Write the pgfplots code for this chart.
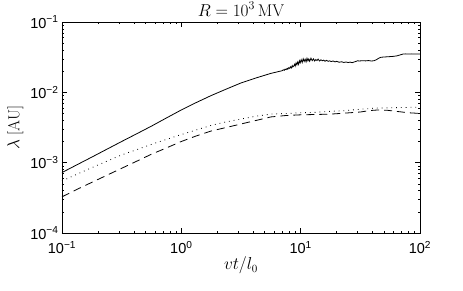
\documentclass[border=0pt]{standalone}
\usepackage{fontspec}
\usepackage{pgfplots}
\pgfplotsset{compat=1.18}
\newfontfamily\lsans{Liberation Sans}
\begin{document}
\begin{tikzpicture}
\path[use as bounding box] (-62pt,-58pt) rectangle (401pt,233pt);
\begin{axis}[
  at={(0pt,0pt)}, anchor=south west,
  scale only axis, width=358pt, height=211pt,
  xmode=log, ymode=log,
  xmin=0.1, xmax=100, ymin=1e-4, ymax=1e-1,
  xtick={0.1,1,10,100},
  xticklabels={10\textsuperscript{−1},10\textsuperscript{0},10\textsuperscript{1},10\textsuperscript{2}},
  ytick={1e-4,1e-3,1e-2,1e-1},
  yticklabels={10\textsuperscript{−4},10\textsuperscript{−3},10\textsuperscript{−2},10\textsuperscript{−1}},
  ticklabel style={font=\fontsize{14.5}{16}\selectfont\lsans},
  xticklabel style={yshift=-5pt},
  tick align=inside, tick pos=both,
  major tick length=5pt, minor tick length=2.5pt,
  axis line style={line width=0.8pt},
  every tick/.style={black, line width=0.5pt},
  title={\fontsize{17}{19}\selectfont $R=10^3\,\mathrm{MV}$},
  title style={yshift=-4pt},
  xlabel={$vt/l_0$},
  ylabel={$\lambda$ [AU]},
  label style={font=\fontsize{16}{18}\selectfont},
  xlabel style={yshift=4pt},
]
% solid
\addplot[black, line width=0.8pt] coordinates {
(0.1,7.24e-4) (0.1334,9.33e-4) (0.1778,1.20e-3) (0.2371,1.55e-3) (0.3162,2.00e-3)
(0.4217,2.57e-3) (0.5623,3.31e-3) (0.7499,4.32e-3) (1,5.62e-3) (1.334,7.16e-3)
(1.778,9.0e-3) (2.371,1.109e-2) (3.162,1.36e-2) (4.217,1.60e-2) (5.623,1.86e-2)
(7.0,0.0203) (7.15,0.0209) (7.3,0.0206) (7.4,0.0214) (7.55,0.0210) (7.7,0.0219)
(7.8,0.0213) (7.95,0.0224) (8.1,0.0219) (8.2,0.0231) (8.35,0.0222) (8.5,0.0240)
(8.6,0.0229) (8.75,0.0236) (8.9,0.0251) (9.0,0.0237) (9.15,0.0262) (9.3,0.0246)
(9.45,0.0270) (9.6,0.0250) (9.75,0.0281) (9.9,0.0262) (10.1,0.0292) (10.3,0.0266)
(10.5,0.0300) (10.7,0.0275) (10.9,0.0296) (11.1,0.0271) (11.3,0.0305) (11.5,0.0280)
(11.7,0.0298) (11.9,0.0276) (12.2,0.0306) (12.5,0.0282) (12.8,0.0299) (13.1,0.0279)
(13.4,0.0293) (13.7,0.0283) (14.0,0.0297) (14.4,0.0279) (14.8,0.0290) (15.2,0.0281)
(15.6,0.0287) (16.0,0.0277) (16.5,0.0285) (17.0,0.0276) (17.5,0.0281) (18,0.0274)
(18.7,0.0279) (19.4,0.0271) (20,0.0276) (21,0.0268) (22,0.0272) (23,0.0266)
(24,0.0270) (25,0.0265) (26,0.0269) (27,0.0264) (28,0.0270) (29,0.0275)
(30,0.0281) (31,0.0279) (33,0.0282) (35,0.0280) (37,0.0283) (39,0.0279)
(41,0.0281) (43,0.0290) (45,0.0305) (47,0.0315) (50,0.0318) (53,0.0320)
(56,0.0322) (60,0.0325) (64,0.0330) (68,0.0340) (72,0.0350) (76,0.0352)
(80,0.0351) (85,0.0352) (90,0.0350) (95,0.0351) (100,0.0350)
};
% dotted
\addplot[black, line width=0.8pt, dash pattern=on 0.8pt off 4pt] coordinates {
(0.1,5.50e-4) (0.1334,6.84e-4) (0.1778,8.51e-4) (0.2371,1.047e-3) (0.3162,1.29e-3)
(0.4217,1.53e-3) (0.5623,1.82e-3) (0.7499,2.14e-3) (1,2.51e-3) (1.334,2.92e-3)
(1.778,3.39e-3) (2.371,3.80e-3) (3.162,4.17e-3) (4.217,4.57e-3) (5.623,4.90e-3)
(7.5,5.01e-3) (10,5.13e-3) (13.3,5.19e-3) (17.8,5.37e-3) (23.7,5.50e-3)
(31.6,5.75e-3) (42.2,5.96e-3) (56.2,6.03e-3) (75,6.10e-3) (100,6.17e-3)
};
% dashed
\addplot[black, line width=0.8pt, dash pattern=on 8pt off 5pt] coordinates {
(0.1,3.27e-4) (0.1334,4.17e-4) (0.1778,5.25e-4) (0.2371,6.61e-4) (0.3162,8.32e-4)
(0.4217,1.047e-3) (0.5623,1.32e-3) (0.7499,1.62e-3) (1,2.00e-3) (1.334,2.40e-3)
(1.778,2.82e-3) (2.371,3.16e-3) (3.162,3.55e-3) (4.217,3.98e-3) (5.623,4.47e-3)
(7.5,4.68e-3) (10,4.79e-3) (13.3,4.84e-3) (17.8,4.90e-3) (23.7,5.07e-3)
(31.6,5.25e-3) (37.6,5.50e-3) (44.7,5.62e-3) (53,5.56e-3) (63.1,5.37e-3)
(79.4,5.13e-3) (100,5.01e-3)
};
\end{axis}
\end{tikzpicture}
\end{document}
